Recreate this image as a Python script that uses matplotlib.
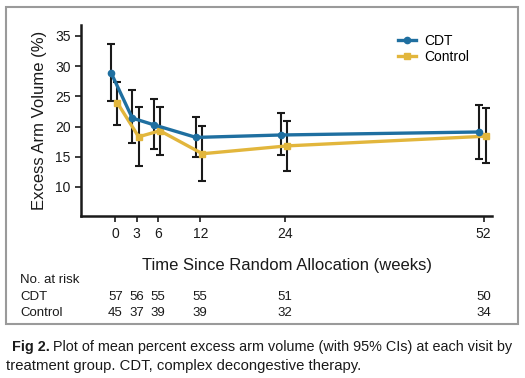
import matplotlib
matplotlib.use("Agg")
import matplotlib.pyplot as plt
import matplotlib.patches as patches
import matplotlib.transforms as mtransforms

plt.rcParams['font.family'] = ['Liberation Sans', 'DejaVu Sans']

weeks = [0, 3, 6, 12, 24, 52]

cdt_mean = [28.9, 21.4, 20.3, 18.2, 18.6, 19.1]
cdt_low = [24.3, 17.3, 16.3, 15.0, 15.3, 14.6]
cdt_high = [33.7, 26.1, 24.5, 21.6, 22.3, 23.6]

ctl_mean = [23.9, 18.3, 19.3, 15.5, 16.8, 18.4]
ctl_low = [20.3, 13.5, 15.3, 11.0, 12.6, 13.9]
ctl_high = [27.4, 23.2, 23.2, 20.1, 20.9, 23.1]

risk_cdt = [57, 56, 55, 55, 51, 50]
risk_ctl = [45, 37, 39, 39, 32, 34]

blue = "#1f6fa0"
gold = "#e2b63c"

fig = plt.figure(figsize=(5.25, 3.78), dpi=100)
ax = fig.add_axes([0.1543, 0.4286, 0.783, 0.5053])

# slight horizontal offset so the two groups' error bars don't overlap
x_cdt = [w - 0.6 for w in weeks]
x_ctl = [w + 0.3 for w in weeks]

cdt_err = [[m - l for m, l in zip(cdt_mean, cdt_low)],
           [h - m for m, h in zip(cdt_mean, cdt_high)]]
ctl_err = [[m - l for m, l in zip(ctl_mean, ctl_low)],
           [h - m for m, h in zip(ctl_mean, ctl_high)]]

ax.errorbar(x_cdt, cdt_mean, yerr=cdt_err, fmt='none', ecolor='#1a1a1a',
            elinewidth=1.5, capsize=3, capthick=1.5, zorder=2)
ax.errorbar(x_ctl, ctl_mean, yerr=ctl_err, fmt='none', ecolor='#1a1a1a',
            elinewidth=1.5, capsize=3, capthick=1.5, zorder=2)
ax.plot(x_ctl, ctl_mean, color=gold, lw=2.4, marker='s', markersize=4.5,
        label='Control', zorder=3)
ax.plot(x_cdt, cdt_mean, color=blue, lw=2.4, marker='o', markersize=4.5,
        label='CDT', zorder=4)

ax.set_xlim(-4.84, 53.2)
ax.set_ylim(5.2, 36.8)
ax.set_xticks(weeks)
ax.set_yticks([10, 15, 20, 25, 30, 35])
ax.tick_params(axis='both', labelsize=10, width=1.2, length=4, color='#1a1a1a',
               labelcolor='#1a1a1a')
ax.tick_params(axis='x', pad=4)
for side in ['top', 'right']:
    ax.spines[side].set_visible(False)
for side in ['left', 'bottom']:
    ax.spines[side].set_linewidth(1.8)
    ax.spines[side].set_color('#1a1a1a')

ax.set_ylabel("Excess Arm Volume (%)", fontsize=12, color='#1a1a1a', labelpad=6)
ax.set_xlabel("Time Since Random Allocation (weeks)", fontsize=12,
              color='#1a1a1a', labelpad=12)

handles, labels = ax.get_legend_handles_labels()
ax.legend(handles[::-1], labels[::-1], loc='upper right', frameon=False,
          fontsize=10, handlelength=1.3, handletextpad=0.6, labelspacing=0.15,
          bbox_to_anchor=(0.975, 1.02))

# number at risk table
trans = mtransforms.blended_transform_factory(ax.transData, fig.transFigure)
fig.text(20 / 525, 1 - 280 / 378, "No. at risk", fontsize=9.5, va='center',
         color='#1a1a1a')
fig.text(20 / 525, 1 - 297 / 378, "CDT", fontsize=9.5, va='center',
         color='#1a1a1a')
fig.text(20 / 525, 1 - 313 / 378, "Control", fontsize=9.5, va='center',
         color='#1a1a1a')
for w, a, b in zip(weeks, risk_cdt, risk_ctl):
    ax.text(w, 1 - 297 / 378, str(a), transform=trans, ha='center',
            va='center', fontsize=9.5, color='#1a1a1a')
    ax.text(w, 1 - 313 / 378, str(b), transform=trans, ha='center',
            va='center', fontsize=9.5, color='#1a1a1a')

# outer frame
frame = patches.Rectangle((6 / 525, 1 - 324 / 378), 512 / 525, 317 / 378,
                          transform=fig.transFigure, fill=False,
                          edgecolor='#9a9a9a', lw=1.5)
fig.patches.append(frame)

# caption
fig_lbl = fig.text(12 / 525, 1 - 347 / 378, "Fig 2.", fontsize=10.4,
                   fontweight='bold', va='center', color='#1a1a1a')
ax.annotate("Plot of mean percent excess arm volume (with 95% CIs) at each visit by",
            xy=(1, 0.5), xycoords=fig_lbl, xytext=(2.5, 0),
            textcoords='offset points', va='center', fontsize=10.4,
            color='#1a1a1a', annotation_clip=False)
fig.text(6 / 525, 1 - 366 / 378,
         "treatment group. CDT, complex decongestive therapy.",
         fontsize=10.7, va='center', color='#1a1a1a')

fig.savefig("out.png", dpi=100)
